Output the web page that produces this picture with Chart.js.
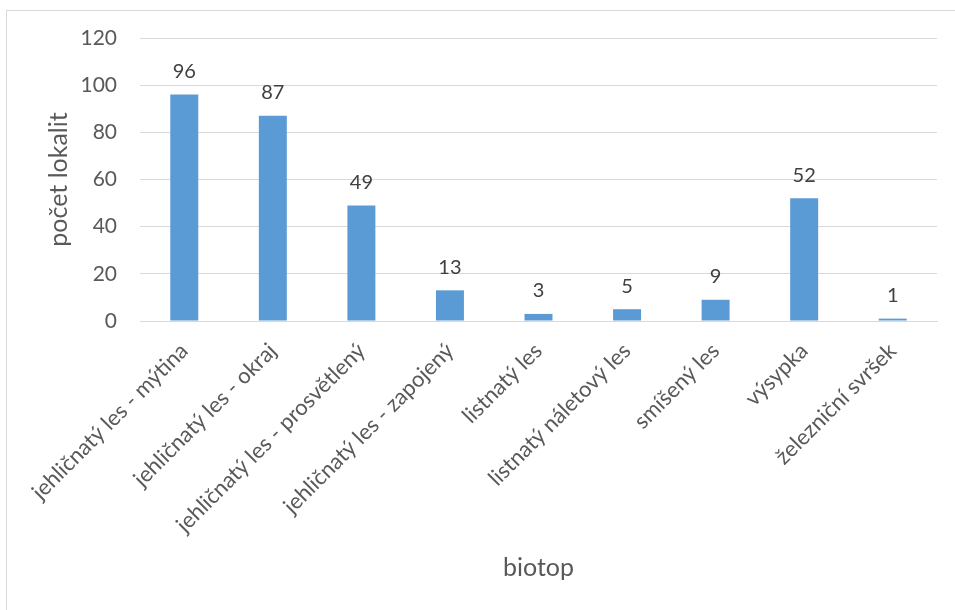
<!DOCTYPE html>
<html lang="cs">
<head>
    <meta charset="UTF-8">
    <title>Počet lokalit podle biotopu</title>
    <script src="https://cdn.jsdelivr.net/npm/chart.js"></script>
    <style>
        body {
            margin: 0;
            background-color: #ffffff;
            overflow: hidden;
        }
        #frame {
            position: absolute;
            left: 6px;
            top: 10px;
            width: 970px;
            height: 620px;
            border: 1px solid #d9d9d9;
        }
        #wrap {
            position: absolute;
            left: 0;
            top: 0;
            width: 955px;
            height: 610px;
        }
    </style>
</head>
<body>
    <div id="frame"></div>
    <div id="wrap"><canvas id="chart"></canvas></div>

    <script>
        const biotopy = [
            "jehličnatý les - mýtina",
            "jehličnatý les - okraj",
            "jehličnatý les - prosvětlený",
            "jehličnatý les - zapojený",
            "listnatý les",
            "listnatý náletový les",
            "smíšený les",
            "výsypka",
            "železniční svršek"
        ];
        const pocty = [96, 87, 49, 13, 3, 5, 9, 52, 1];
        const yTicks = [0, 20, 40, 60, 80, 100, 120];

        const fontName = "Lato, 'Open Sans', sans-serif";

        // popisky hodnot nad sloupci
        const valueLabels = {
            id: 'valueLabels',
            afterDatasetsDraw(chart) {
                const ctx = chart.ctx;
                const meta = chart.getDatasetMeta(0);
                ctx.save();
                ctx.font = "20px " + fontName;
                ctx.fillStyle = '#404040';
                ctx.textAlign = 'center';
                ctx.textBaseline = 'bottom';
                meta.data.forEach((bar, i) => {
                    ctx.fillText(String(pocty[i]), bar.x, bar.y - 13);
                });
                ctx.restore();
            }
        };

        new Chart(document.getElementById('chart'), {
            type: 'bar',
            data: {
                labels: biotopy,
                datasets: [{
                    data: pocty,
                    backgroundColor: '#5b9bd5',
                    borderWidth: 0,
                    categoryPercentage: 1,
                    barPercentage: 0.316
                }]
            },
            options: {
                responsive: true,
                maintainAspectRatio: false,
                animation: false,
                events: [],
                layout: { padding: { top: 38, right: 18, left: 0, bottom: 0 } },
                plugins: {
                    legend: { display: false },
                    tooltip: { enabled: false }
                },
                scales: {
                    x: {
                        grid: { display: false, drawTicks: false },
                        border: { color: '#d9d9d9', width: 1 },
                        ticks: {
                            color: '#595959',
                            font: { family: fontName, size: 22 },
                            maxRotation: 45,
                            minRotation: 45,
                            padding: 17,
                            autoSkip: false
                        },
                        title: {
                            display: true,
                            text: 'biotop',
                            color: '#595959',
                            font: { family: fontName, size: 25 },
                            padding: { top: 0, bottom: 27 }
                        },
                        afterFit(scale) { scale.height = 289; }
                    },
                    y: {
                        min: 0,
                        max: 120,
                        afterBuildTicks(scale) {
                            scale.ticks = yTicks.map(v => ({ value: v }));
                        },
                        grid: { color: '#d9d9d9', lineWidth: 1, drawTicks: false },
                        border: { display: false },
                        ticks: {
                            color: '#595959',
                            font: { family: fontName, size: 21 },
                            padding: 23
                        },
                        title: {
                            display: true,
                            text: 'počet lokalit',
                            color: '#595959',
                            font: { family: fontName, size: 25 },
                            padding: { top: 44, bottom: 0 }
                        },
                        afterFit(scale) { scale.width = 140; }
                    }
                }
            },
            plugins: [valueLabels]
        });
    </script>
</body>
</html>
